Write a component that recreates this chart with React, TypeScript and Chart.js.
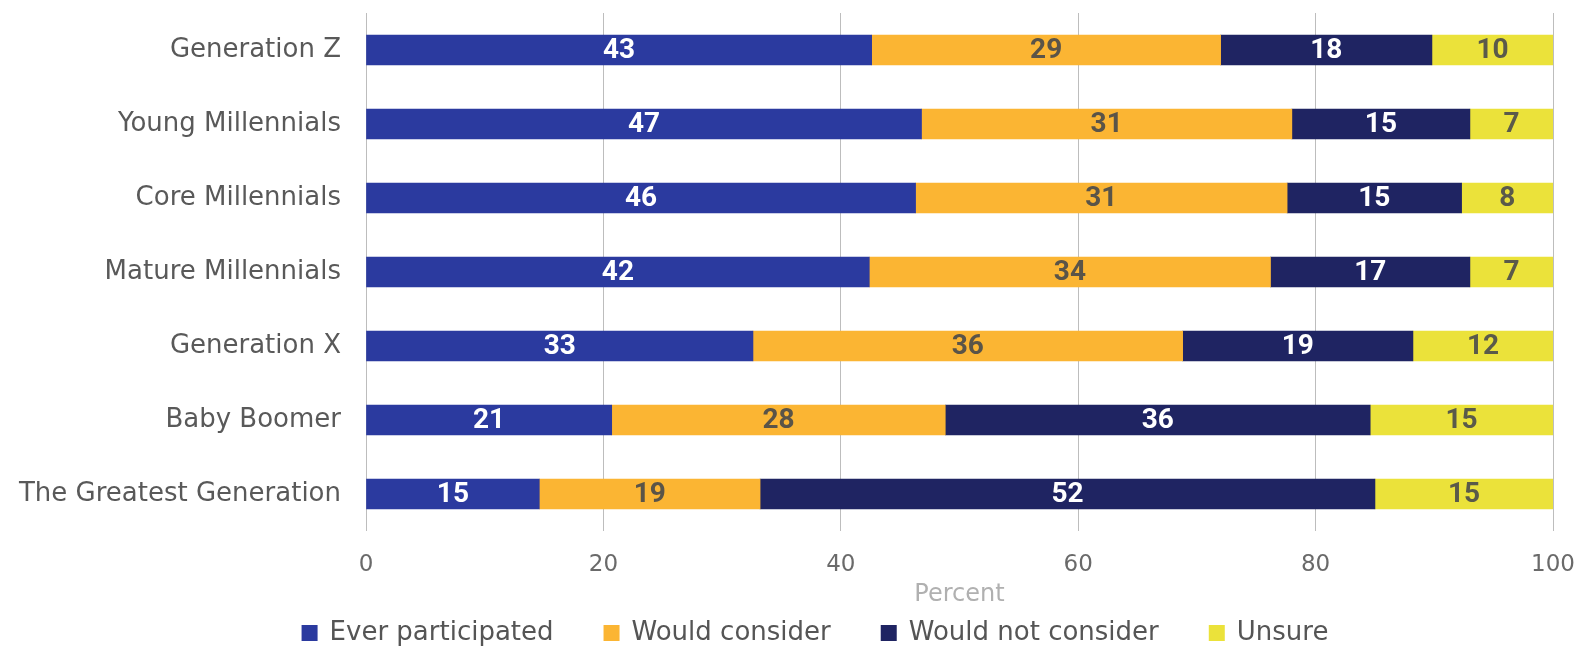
import React, { useEffect, useRef } from "react";
import { Chart, registerables } from "chart.js";

Chart.register(...registerables);

const categories = [
  "Generation Z",
  "Young Millennials",
  "Core Millennials",
  "Mature Millennials",
  "Generation X",
  "Baby Boomer",
  "The Greatest Generation",
];

const seriesNames = ["Ever participated", "Would consider", "Would not consider", "Unsure"];

const everParticipated = [42.6, 46.8, 46.3, 42.4, 32.6, 20.7, 14.6];
const wouldConsider = [29.4, 31.2, 31.3, 33.8, 36.2, 28.1, 18.6];
const wouldNotConsider = [17.8, 15.0, 14.7, 16.8, 19.4, 35.8, 51.8];
const unsure = [10.2, 7.0, 7.7, 7.0, 11.8, 15.4, 15.0];

const xTicks = [0, 20, 40, 60, 80, 100];
const xTitle = "Percent";

const colors = ["#2b3a9f", "#fbb533", "#1f2462", "#ebe23a"];
const labelColors = ["#ffffff", "#5a5448", "#ffffff", "#5a5a4a"];

const FONT = "'DejaVu Sans', 'Open Sans', sans-serif";

const barLabelPlugin = {
  id: "barLabels",
  afterDatasetsDraw(chart: any) {
    const ctx = chart.ctx;
    ctx.save();
    ctx.textAlign = "center";
    ctx.textBaseline = "middle";
    ctx.font = `bold 28px 'Roboto', 'Open Sans', sans-serif`;
    chart.data.datasets.forEach((ds: any, di: number) => {
      const meta = chart.getDatasetMeta(di);
      meta.data.forEach((el: any, i: number) => {
        const v = ds.data[i];
        const x = (el.x + el.base) / 2;
        ctx.fillStyle = labelColors[di];
        ctx.fillText(String(Math.round(v)), x, el.y + 1);
      });
    });
    ctx.restore();
  },
};

const customLegendPlugin = {
  id: "customLegend",
  afterDraw(chart: any) {
    const ctx = chart.ctx;
    ctx.save();
    ctx.font = `26px ${FONT}`;
    ctx.textBaseline = "middle";
    ctx.textAlign = "left";
    const box = 16;
    const gap = 12;
    const itemGap = 50;
    const items = chart.data.datasets.map((ds: any) => ({
      text: ds.label,
      color: ds.backgroundColor,
      w: ctx.measureText(ds.label).width,
    }));
    const total =
      items.reduce((s: number, it: any) => s + box + gap + it.w, 0) + itemGap * (items.length - 1);
    let x = 815 - total / 2;
    const y = 633;
    items.forEach((it: any) => {
      ctx.fillStyle = it.color;
      ctx.fillRect(x, y - box / 2, box, box);
      ctx.fillStyle = "#555555";
      ctx.fillText(it.text, x + box + gap, y);
      x += box + gap + it.w + itemGap;
    });
    ctx.restore();
  },
};

export default function App() {
  const ref = useRef<HTMLCanvasElement | null>(null);
  useEffect(() => {
    if (!ref.current) return;
    const data = [everParticipated, wouldConsider, wouldNotConsider, unsure];
    const chart = new Chart(ref.current, {
      type: "bar",
      data: {
        labels: categories,
        datasets: data.map((d, i) => ({
          label: seriesNames[i],
          data: d,
          backgroundColor: colors[i],
          borderWidth: 0,
          barThickness: 30,
        })),
      },
      options: {
        indexAxis: "y",
        animation: false,
        responsive: true,
        maintainAspectRatio: false,
        layout: { padding: { top: 13, right: 42, left: 0, bottom: 36 } },
        scales: {
          x: {
            stacked: true,
            min: 0,
            max: 100,
            afterBuildTicks: (scale: any) => {
              scale.ticks = xTicks.map((v) => ({ value: v }));
            },
            afterFit: (scale: any) => {
              scale.height = 81;
            },
            grid: {
              color: "#bdbdbd",
              lineWidth: 1,
              drawTicks: false,
            },
            border: { display: false },
            ticks: {
              color: "#6a6a6a",
              font: { family: FONT, size: 23 },
              padding: 20,
            },
            title: {
              display: true,
              text: xTitle,
              color: "#b0b0b0",
              font: { family: FONT, size: 24 },
              padding: { top: 0, bottom: 3 },
            },
          },
          y: {
            stacked: true,
            grid: { display: false, drawTicks: false },
            border: { display: false },
            ticks: {
              color: "#595959",
              font: { family: FONT, size: 26 },
              padding: 25,
            },
            afterFit: (scale: any) => {
              scale.width = 366;
              scale.paddingTop = 0;
              scale.paddingBottom = 0;
            },
          },
        },
        plugins: {
          legend: { display: false },
          tooltip: { enabled: false },
        },
      },
      plugins: [barLabelPlugin, customLegendPlugin],
    } as any);
    return () => chart.destroy();
  }, []);
  return (
    <div style={{ position: "fixed", left: 0, top: 0, width: 1595, height: 648, background: "#ffffff" }}>
      <canvas ref={ref} />
    </div>
  );
}
